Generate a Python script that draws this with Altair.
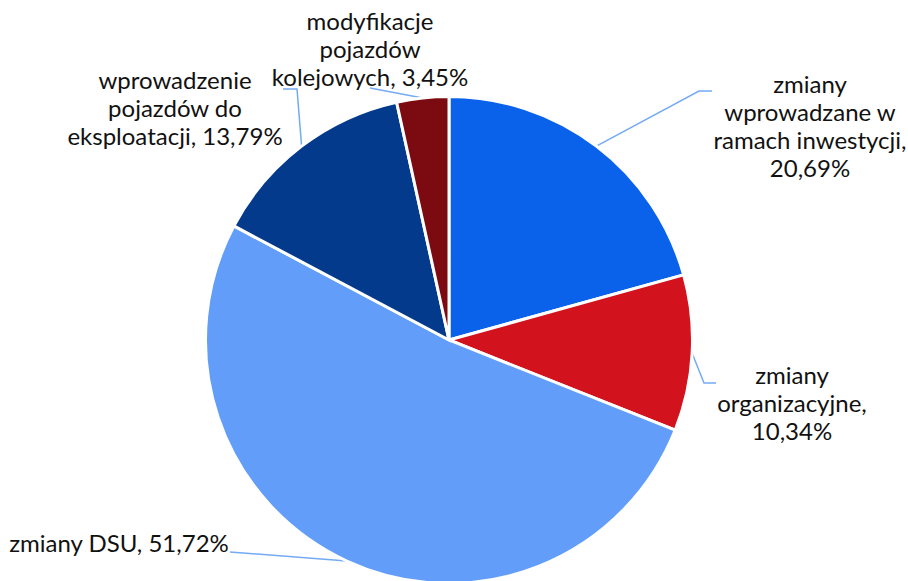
import math
import altair as alt
import pandas as pd

# ---- data ----
categories = [
    "zmiany wprowadzane w ramach inwestycji",
    "zmiany organizacyjne",
    "zmiany DSU",
    "wprowadzenie pojazdów do eksploatacji",
    "modyfikacje pojazdów kolejowych",
]
values = [20.69, 10.34, 51.72, 13.79, 3.45]
value_labels = ["20,69%", "10,34%", "51,72%", "13,79%", "3,45%"]
label_lines = [
    ["zmiany", "wprowadzane w", "ramach inwestycji,", "20,69%"],
    ["zmiany", "organizacyjne,", "10,34%"],
    ["zmiany DSU, 51,72%"],
    ["wprowadzenie", "pojazdów do", "eksploatacji, 13,79%"],
    ["modyfikacje", "pojazdów", "kolejowych, 3,45%"],
]
colors = ["#0A62EA", "#D2121D", "#629EF9", "#033A8B", "#7B0B11"]

# ---- layout (pixels in the 908x581 canvas) ----
W, H = 908, 581
CX, CY, R = 449, 340, 243.5
label_anchor = [(810, 93), (792, 384), (119, 552), (175, 89), (370, 30)]
leader_tail = [
    [(699, 91), (712, 91)],
    [(704, 383), (716, 383)],
    [(230, 552)],
    [(297, 89), (283, 89)],
    [(370, 88)],
]


def to_u(px):
    return (px - CX) / R


def to_v(py):
    return (CY - py) / R


xscale = alt.Scale(domain=[to_u(0), to_u(W)], nice=False, zero=False)
yscale = alt.Scale(domain=[to_v(H), to_v(0)], nice=False, zero=False)

pie_df = pd.DataFrame({"cat": categories, "value": values, "order": range(len(values))})

arc = alt.Chart(pie_df).mark_arc(outerRadius=R, stroke="white", strokeWidth=3).encode(
    theta=alt.Theta("value:Q", stack=True),
    color=alt.Color("cat:N", scale=alt.Scale(domain=categories, range=colors), legend=None),
    order=alt.Order("order:Q"),
    x=alt.X(datum=0, type="quantitative", scale=xscale, axis=None),
    y=alt.Y(datum=0, type="quantitative", scale=yscale, axis=None),
)

# leader lines: start at slice mid-angle on the rim
total = sum(values)
rows = []
cum = 0.0
for i, v in enumerate(values):
    mid = (cum + v / 2) / total * 2 * math.pi
    cum += v
    pts = [(math.sin(mid), math.cos(mid))] + [(to_u(px), to_v(py)) for px, py in leader_tail[i]]
    for k, (u, vv) in enumerate(pts):
        rows.append({"id": i, "seq": k, "u": u, "v": vv})
lead_df = pd.DataFrame(rows)

leaders = alt.Chart(lead_df).mark_line(color="#75AAF5", strokeWidth=1.5).encode(
    x=alt.X("u:Q", scale=xscale, axis=None),
    y=alt.Y("v:Q", scale=yscale, axis=None),
    detail="id:N",
    order="seq:Q",
)

lab_df = pd.DataFrame({
    "text": ["\n".join(l) for l in label_lines],
    "u": [to_u(p[0]) for p in label_anchor],
    "v": [to_v(p[1]) for p in label_anchor],
})

labels = alt.Chart(lab_df).mark_text(
    font="Lato", fontSize=24, color="#111111", align="center", baseline="alphabetic",
    lineBreak="\n", lineHeight=28,
).encode(
    x=alt.X("u:Q", scale=xscale, axis=None),
    y=alt.Y("v:Q", scale=yscale, axis=None),
    text="text:N",
)

chart = alt.layer(leaders, arc, labels).properties(
    width=W, height=H, autosize=alt.AutoSizeParams(type="none"), padding=0,
).configure_view(stroke=None)

chart.save("out.html", embed_options={"renderer": "svg", "actions": False})
